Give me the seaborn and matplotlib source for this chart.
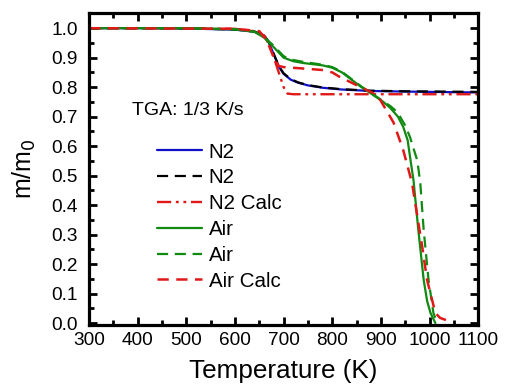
import matplotlib
matplotlib.use("Agg")
import matplotlib.pyplot as plt
import seaborn as sns
import pandas as pd
from matplotlib.ticker import MultipleLocator

sns.set_theme(style="ticks")
plt.rcParams['font.family'] = ['Liberation Sans', 'DejaVu Sans']
plt.rcParams['text.color'] = 'black'
plt.rcParams['axes.labelcolor'] = 'black'
plt.rcParams['xtick.color'] = 'black'
plt.rcParams['ytick.color'] = 'black'

# ---- data ----
T_n2 = [300, 400, 500, 600, 640, 660, 670, 680, 690, 700, 715, 730, 750, 780, 820, 880, 950, 1100]
m_n2 = [1.0, 1.0, 0.999, 0.995, 0.988, 0.975, 0.95, 0.91, 0.87, 0.845, 0.825, 0.815, 0.806, 0.798, 0.792, 0.787, 0.785, 0.782]

T_n2b = [300, 400, 500, 600, 640, 660, 670, 680, 690, 700, 715, 730, 750, 780, 820, 880, 950, 1100]
m_n2b = [1.0, 1.0, 0.999, 0.996, 0.989, 0.976, 0.952, 0.912, 0.872, 0.847, 0.827, 0.816, 0.807, 0.799, 0.793, 0.788, 0.786, 0.784]

T_n2c = [300, 500, 600, 640, 660, 670, 680, 690, 700, 708, 720, 800, 900, 1100]
m_n2c = [1.0, 1.0, 0.998, 0.99, 0.975, 0.945, 0.90, 0.85, 0.80, 0.778, 0.776, 0.776, 0.776, 0.776]

T_air = [300, 500, 600, 640, 660, 680, 700, 720, 740, 760, 780, 800, 820, 840, 860, 880, 905, 919, 935, 946, 955, 962, 967, 977, 988, 995, 1002, 1012]
m_air = [1.0, 1.0, 0.996, 0.988, 0.968, 0.935, 0.90, 0.888, 0.882, 0.878, 0.874, 0.866, 0.85, 0.825, 0.80, 0.778, 0.75, 0.73, 0.70, 0.665, 0.62, 0.54, 0.485, 0.315, 0.146, 0.075, 0.034, 0.0]

T_airb = [300, 500, 600, 640, 660, 680, 700, 720, 740, 760, 780, 800, 820, 840, 860, 880, 905, 920, 934, 950, 960, 975, 981, 988, 998, 1008, 1016]
m_airb = [1.0, 1.0, 0.996, 0.988, 0.97, 0.94, 0.905, 0.892, 0.886, 0.881, 0.876, 0.868, 0.852, 0.827, 0.802, 0.78, 0.752, 0.735, 0.715, 0.67, 0.63, 0.55, 0.475, 0.315, 0.146, 0.034, 0.0]

T_airc = [300, 600, 650, 665, 680, 690, 700, 734, 781, 800, 816, 840, 858, 884, 899, 926, 946, 964, 985, 995, 1012, 1022, 1043]
m_airc = [1.0, 0.998, 0.99, 0.96, 0.90, 0.872, 0.868, 0.864, 0.858, 0.85, 0.834, 0.815, 0.80, 0.78, 0.756, 0.68, 0.586, 0.475, 0.258, 0.146, 0.034, 0.017, 0.005]

labels = ["N2", "N2", "N2 Calc", "Air", "Air", "Air Calc"]
colors = ["#1010c8", "black", "#e01818", "#108a10", "#108a10", "#e01818"]
styles = ["-", (0, (5, 3)), (0, (6, 2, 1.2, 2, 1.2, 2)), "-", (0, (5, 3)), (0, (4.5, 3))]
widths = [1.6, 1.6, 1.7, 1.6, 1.6, 1.8]
series = [(T_n2, m_n2), (T_n2b, m_n2b), (T_n2c, m_n2c), (T_air, m_air), (T_airb, m_airb), (T_airc, m_airc)]

fig = plt.figure(figsize=(5.06, 3.87), dpi=100)
ax = fig.add_axes([0.176, 0.160, 0.769, 0.806])

for (T, m), lab, c, ls, lw in zip(series, labels, colors, styles, widths):
    df = pd.DataFrame({"T": T, "m": m})
    sns.lineplot(data=df, x="T", y="m", ax=ax, color=c, linestyle=ls, linewidth=lw,
                 label=lab, sort=False, estimator=None)

ax.set_xlim(300, 1100)
ax.set_ylim(-0.007, 1.051)
ax.xaxis.set_major_locator(MultipleLocator(100))
ax.xaxis.set_minor_locator(MultipleLocator(50))
ax.yaxis.set_major_locator(MultipleLocator(0.1))
ax.yaxis.set_minor_locator(MultipleLocator(0.05))
ax.tick_params(which="both", direction="in", top=True, right=True, width=2, colors="black", labelsize=13.7)
ax.tick_params(which="major", length=6)
ax.tick_params(which="minor", length=3.5)
ax.tick_params(axis="x", pad=5)
ax.tick_params(axis="y", pad=8)
for s in ax.spines.values():
    s.set_linewidth(2.3)
    s.set_color("black")

ax.set_xlabel("Temperature (K)", fontsize=18.8, labelpad=7)
ax.set_ylabel("m/m$_0$", fontsize=18, labelpad=10)

ax.text(388.5, 0.722, "TGA: 1/3 K/s", fontsize=14, va="center", ha="left")

leg = ax.legend(loc="upper left", bbox_to_anchor=(0.175, 0.585), frameon=False, fontsize=14.8,
                handlelength=2.2, handletextpad=0.3, labelspacing=0.33, borderaxespad=0,
                borderpad=0)
for t in leg.get_texts():
    t.set_color("black")

fig.savefig("out.png", dpi=100)
